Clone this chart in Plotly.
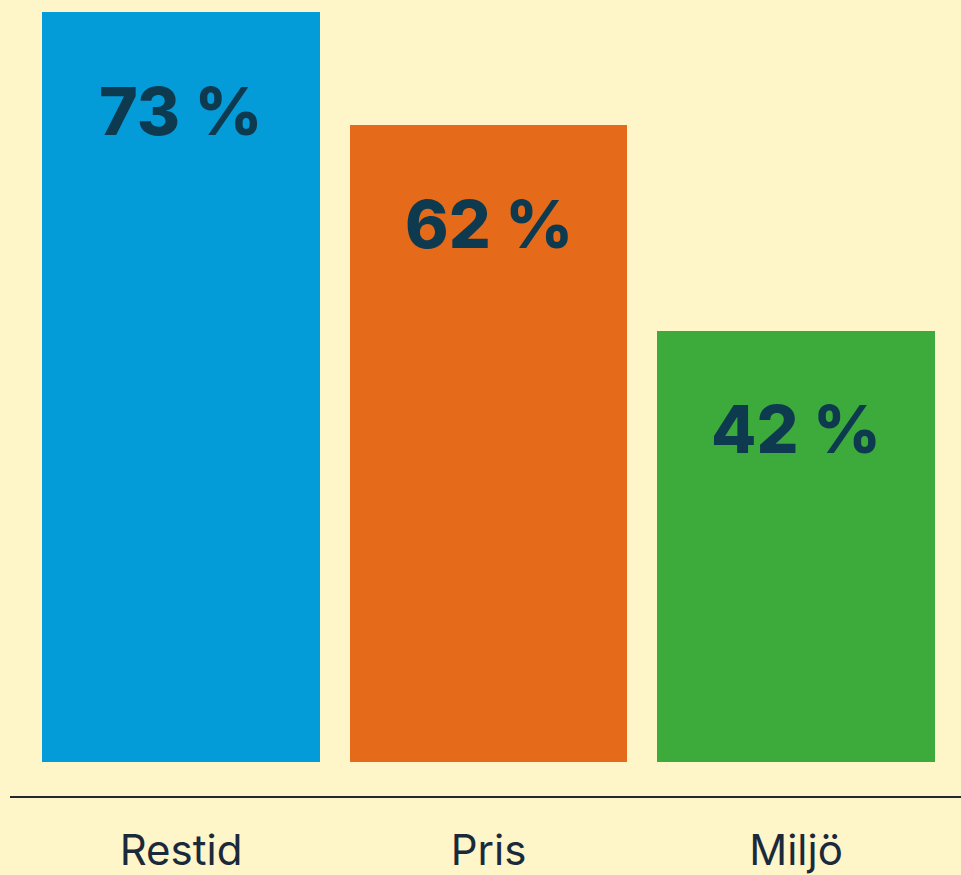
import plotly.graph_objects as go

categories = ["Restid", "Pris", "Miljö"]
values = [73, 62, 42]
value_labels = ["73 %", "62 %", "42 %"]
bar_colors = ["#049BD9", "#E56B1A", "#3DAA3C"]

BG = "#FEF5C9"
TEXT_DARK = "#0E3A4F"
LABEL_OFFSET = 9.6  # data units below bar top

fig = go.Figure()
fig.add_trace(go.Bar(
    x=categories,
    y=values,
    marker=dict(color=bar_colors, line=dict(width=0)),
    width=0.904,
    hoverinfo="skip",
))

for cat, v, lab in zip(categories, values, value_labels):
    fig.add_annotation(
        x=cat, y=v - LABEL_OFFSET, xref="x", yref="y",
        text=lab, showarrow=False,
        font=dict(family="Inter, Liberation Sans, Arial, sans-serif", size=66,
                  color=TEXT_DARK, weight=800),
        xanchor="center", yanchor="middle",
    )

# horizontal axis rule
fig.add_shape(type="line", xref="paper", yref="paper",
              x0=10 / 961, x1=1, y0=0, y1=0,
              line=dict(color="#1E2A2E", width=2))

fig.update_layout(
    width=961, height=875,
    margin=dict(l=0, r=0, t=0, b=78, pad=0, autoexpand=False),
    paper_bgcolor=BG, plot_bgcolor=BG,
    showlegend=False,
    bargap=0,
    xaxis=dict(
        range=[-0.5886, 2.5366],
        showgrid=False, zeroline=False, showline=False,
        ticks="", ticklabelstandoff=25, automargin=False,
        tickfont=dict(family="Inter, Liberation Sans, Arial, sans-serif", size=42, color="#1B2A3A"),
        fixedrange=True,
    ),
    yaxis=dict(
        range=[-3.41, 74.2],
        showgrid=False, zeroline=False, showline=False,
        showticklabels=False, ticks="", automargin=False,
        fixedrange=True,
    ),
)

fig.write_html("out.html", config={"displayModeBar": False},
               post_script="document.body.style.margin='0';document.body.style.padding='0';document.body.style.overflow='hidden';")
